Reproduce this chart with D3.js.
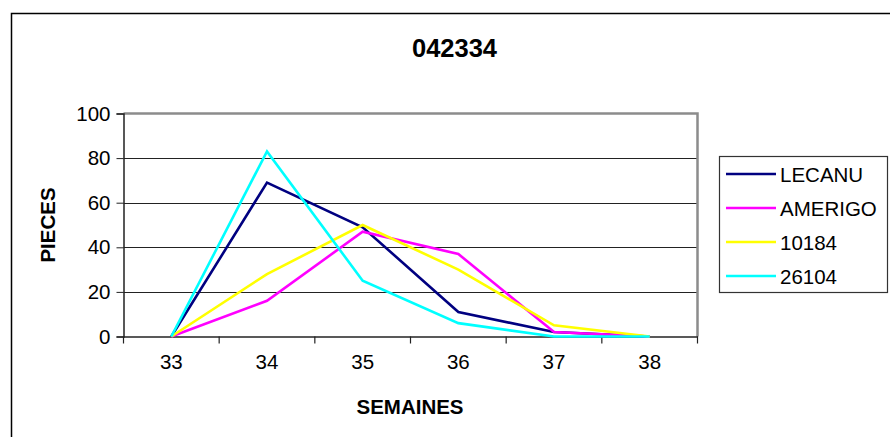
<!DOCTYPE html>
<html>
<head>
<meta charset="utf-8">
<script src="https://cdn.jsdelivr.net/npm/d3@7"></script>
<style>
  html, body { margin: 0; padding: 0; background: #fff; }
  svg { display: block; font-family: "Liberation Sans", Arial, sans-serif; }
</style>
</head>
<body>
<svg id="chart" width="890" height="437"></svg>
<script>
// Weekly piece counts per supplier
const weeks = ["33", "34", "35", "36", "37", "38"];
const seriesNames = ["LECANU", "AMERIGO", "10184", "26104"];
const seriesColors = ["#000080", "#ff00ff", "#ffff00", "#00ffff"];
const lecanu  = [0, 69, 49, 11, 2, 0];
const amerigo = [0, 16, 47, 37, 2, 0];
const s10184  = [0, 28, 50, 30, 5, 0];
const s26104  = [0, 83, 25, 6, 0, 0];
const yTicks = [0, 20, 40, 60, 80, 100];

const seriesValues = [lecanu, amerigo, s10184, s26104];

const svg = d3.select("#chart");

// Outer chart frame
svg.append("rect")
  .attr("x", 11.5).attr("y", 13.5)
  .attr("width", 900).attr("height", 450)
  .attr("fill", "#fff").attr("stroke", "#000").attr("stroke-width", 1.5);

const plot = { left: 123.5, top: 113.5, right: 697.5, bottom: 336.5 };

const x = d3.scaleBand().domain(weeks).range([plot.left, plot.right]);
const y = d3.scaleLinear().domain([0, 100]).range([plot.bottom, plot.top]);
const cx = d => x(d) + x.bandwidth() / 2;

// Horizontal gridlines
svg.append("g")
  .selectAll("line")
  .data(yTicks.filter(t => t > 0 && t < 100))
  .join("line")
  .attr("x1", plot.left).attr("x2", plot.right)
  .attr("y1", d => Math.round(y(d)) + 0.5).attr("y2", d => Math.round(y(d)) + 0.5)
  .attr("stroke", "#222").attr("stroke-width", 1);

// Plot area border (top and right in gray)
svg.append("path")
  .attr("d", `M${plot.left},${plot.top}H${plot.right}V${plot.bottom}`)
  .attr("fill", "none").attr("stroke", "#8c8c8c").attr("stroke-width", 2.5);

// Y axis
const yAxis = d3.axisLeft(y).tickValues(yTicks).tickSize(7).tickPadding(6);
const gy = svg.append("g").attr("transform", `translate(${plot.left},0)`).call(yAxis);
gy.select(".domain").attr("stroke", "#222").attr("stroke-width", 1.5);
gy.selectAll(".tick line").attr("stroke", "#222");
gy.selectAll(".tick text")
  .attr("font-size", "20.5px").attr("fill", "#000")
  .attr("font-family", "'Liberation Sans', Arial, sans-serif");

// X axis with ticks between categories
const xAxis = d3.axisBottom(x).tickSize(0).tickPadding(18);
const gx = svg.append("g").attr("transform", `translate(0,${plot.bottom})`).call(xAxis);
gx.select(".domain").attr("stroke", "#222").attr("stroke-width", 1.5);
gx.selectAll(".tick text")
  .attr("font-size", "20.5px").attr("fill", "#000")
  .attr("font-family", "'Liberation Sans', Arial, sans-serif");
gx.selectAll("line.sep")
  .data(weeks.concat([null]))
  .join("line")
  .attr("class", "sep")
  .attr("x1", (d, i) => i < weeks.length ? x(d) : plot.right)
  .attr("x2", (d, i) => i < weeks.length ? x(d) : plot.right)
  .attr("y1", 0).attr("y2", 7)
  .attr("stroke", "#222").attr("stroke-width", 1.2);

// Series lines
const line = d3.line().x((d, i) => cx(weeks[i])).y(d => y(d));
svg.append("g")
  .selectAll("path")
  .data(seriesValues)
  .join("path")
  .attr("d", d => line(d))
  .attr("fill", "none")
  .attr("stroke", (d, i) => seriesColors[i])
  .attr("stroke-width", 2.6)
  .attr("stroke-linejoin", "miter");

// Title and axis titles
svg.append("text")
  .attr("x", 454.5).attr("y", 57)
  .attr("text-anchor", "middle")
  .attr("font-size", "25.5px").attr("font-weight", "bold")
  .text("042334");

svg.append("text")
  .attr("x", 410).attr("y", 414)
  .attr("text-anchor", "middle")
  .attr("font-size", "20.5px").attr("font-weight", "bold")
  .text("SEMAINES");

svg.append("text")
  .attr("transform", "translate(55,225) rotate(-90)")
  .attr("text-anchor", "middle")
  .attr("font-size", "20.5px").attr("font-weight", "bold")
  .text("PIECES");

// Legend
const legend = svg.append("g");
legend.append("rect")
  .attr("x", 719.5).attr("y", 156.5)
  .attr("width", 168).attr("height", 136)
  .attr("fill", "#fff").attr("stroke", "#333").attr("stroke-width", 1.2);
const items = legend.selectAll("g.item")
  .data(seriesNames)
  .join("g")
  .attr("class", "item")
  .attr("transform", (d, i) => `translate(0,${174 + i * 34})`);
items.append("line")
  .attr("x1", 726).attr("x2", 776)
  .attr("y1", 0).attr("y2", 0)
  .attr("stroke", (d, i) => seriesColors[i])
  .attr("stroke-width", 2.6);
items.append("text")
  .attr("x", 780).attr("y", 7.5)
  .attr("font-size", "20.5px")
  .text(d => d);
</script>
</body>
</html>
